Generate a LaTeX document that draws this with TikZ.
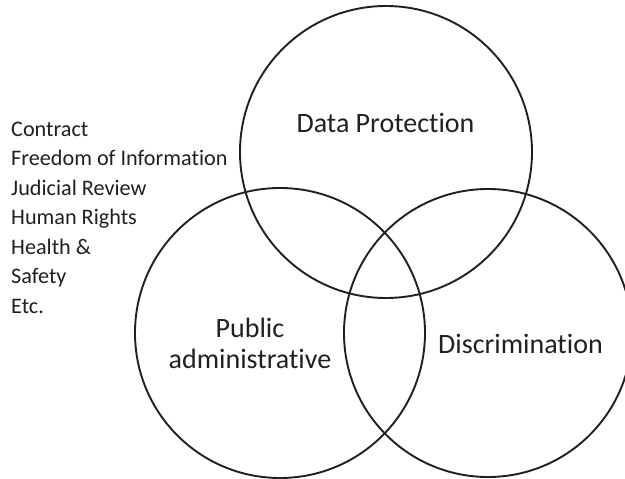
\documentclass[tikz,border=0pt]{standalone}
\usepackage{fontspec}
\setmainfont{Carlito}[Ligatures=NoCommon]
\definecolor{ink}{HTML}{231F20}
\begin{document}
\begin{tikzpicture}[x=1pt,y=-1pt,
  ring/.style={circle,draw=ink,line width=1.9pt,inner sep=0pt},
  bigtxt/.style={text=ink,font=\fontsize{28}{32}\selectfont,inner sep=0pt,anchor=base},
  listtxt/.style={text=ink,font=\fontsize{22.2}{26}\selectfont,inner sep=0pt,anchor=base west}]
\useasboundingbox (0,0) rectangle (625,479);
\begin{scope}
\clip (0,0) rectangle (625,479);
\node[ring,minimum size=292pt] (dp) at (386,152) {};
\node[ring,minimum size=290pt] (pa) at (280,333) {};
\node[ring,minimum size=288pt] (di) at (488,333) {};
\end{scope}
\node[bigtxt] (tdp) at (385.5,132) {Data Protection};
\node[bigtxt] (tdi) at (520.5,353) {Discrimination};
\node[bigtxt] (tpa1) at (250,337) {Public};
\node[bigtxt] (tpa2) at (250,368) {administrative};
\foreach \t [count=\i from 0] in {Contract,Freedom of Information,Judicial Review,Human Rights,Health \&,Safety,Etc.}
  \node[listtxt] (l\i) at (11,136+29.5*\i) {\t};
\end{tikzpicture}
\end{document}
